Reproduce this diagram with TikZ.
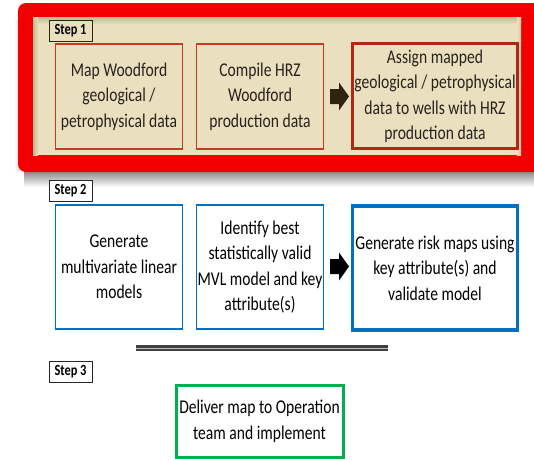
\documentclass[tikz,border=0pt]{standalone}
\usepackage{fontspec}
\setmainfont{Carlito}[FakeStretch=0.8]
\definecolor{framered}{RGB}{242,0,0}
\definecolor{parchment}{RGB}{234,223,190}
\definecolor{parchdark}{RGB}{196,182,142}
\definecolor{rustline}{RGB}{196,60,30}
\definecolor{rustdark}{RGB}{178,38,22}
\definecolor{inkbrown}{RGB}{48,34,12}
\definecolor{textdark}{RGB}{40,34,28}
\definecolor{officeblue}{RGB}{0,112,192}
\definecolor{officegreen}{RGB}{0,176,80}
\begin{document}
\begin{tikzpicture}[x=1pt,y=-1pt,
  proc/.style={draw, rectangle, align=center, inner sep=0pt,
    font=\fontsize{19.5}{25.5}\selectfont, text=black},
  geobox/.style={proc, draw=rustline, line width=1.8pt, text=textdark,
    minimum width=127pt, minimum height=105pt},
  riskbox/.style={proc, draw=officeblue, line width=1.8pt,
    minimum width=127pt, minimum height=124pt},
  steplabel/.style={draw=black!85, rectangle, inner sep=0pt, line width=0.8pt,
    minimum width=43pt, minimum height=21pt,
    font=\bfseries\fontsize{15.5}{18}\selectfont}
]
\useasboundingbox (0,0) rectangle (534,459);

% soft shadow under the red frame
\shade[top color=black!50, bottom color=white] (24,170) rectangle (534,187);
\shade[left color=white, right color=black!15] (14,20) rectangle (20,170);

% red frame around step 1
\fill[framered, rounded corners=8pt] (18,3) rectangle (560,172);
\fill[parchment] (33,17) rectangle (521,155);
\shade[top color=parchdark, bottom color=parchment] (33,17) rectangle (521,24);
\shade[left color=parchdark, right color=parchment] (33,17) rectangle (38,155);
\shade[left color=parchment, right color=parchdark!80] (517,17) rectangle (521,155);

% step 1
\node[steplabel, fill=parchment, draw=inkbrown] (s1) at (70.5,30.5) {Step 1};
\node[geobox] (b1) at (119,96.3) {Map Woodford\\geological /\\petrophysical data};
\node[geobox] (b2) at (260,96.3) {Compile HRZ\\Woodford\\production data};
\node[geobox, draw=rustdark, line width=3pt, minimum width=165pt] (b3) at (435,96.3)
  {Assign mapped\\geological / petrophysical\\data to wells with HRZ\\production data};
\coordinate (a1) at (330,96.5);
\fill[inkbrown] (a1) ++(0,-7.5) -- ++(9,0) -- ++(0,-6.5) -- ++(10,14) -- ++(-10,14)
  -- ++(0,-6.5) -- ++(-9,0) -- cycle;

% step 2
\node[steplabel, fill=white] (s2) at (70.5,190.5) {Step 2};
\node[riskbox] (b4) at (119,267) {Generate\\multivariate linear\\models};
\node[riskbox] (b5) at (260,267) {Identify best\\statistically valid\\MVL model and key\\attribute(s)};
\node[riskbox, line width=3.2pt, minimum width=165pt] (b6) at (435,268)
  {Generate risk maps using\\key attribute(s) and\\validate model};
\coordinate (a2) at (330,266.5);
\fill[black] (a2) ++(0,-7.5) -- ++(9,0) -- ++(0,-6.5) -- ++(10,14) -- ++(-10,14)
  -- ++(0,-6.5) -- ++(-9,0) -- cycle;

% divider
\coordinate (d1) at (136,348.3);
\coordinate (d2) at (388,348.3);
\draw[black!12, line width=2pt] ([yshift=-2pt]d1) -- ([yshift=-2pt]d2);
\draw[black!75, line width=2.6pt, double=black!25, double distance=0.6pt] (d1) -- (d2);

% step 3
\node[steplabel, fill=white] (s3) at (70.5,372) {Step 3};
\node[proc, draw=officegreen, line width=3pt, minimum width=167pt, minimum height=72pt]
  (b7) at (259.5,421.5) {Deliver map to Operation\\team and implement};
\end{tikzpicture}
\end{document}
